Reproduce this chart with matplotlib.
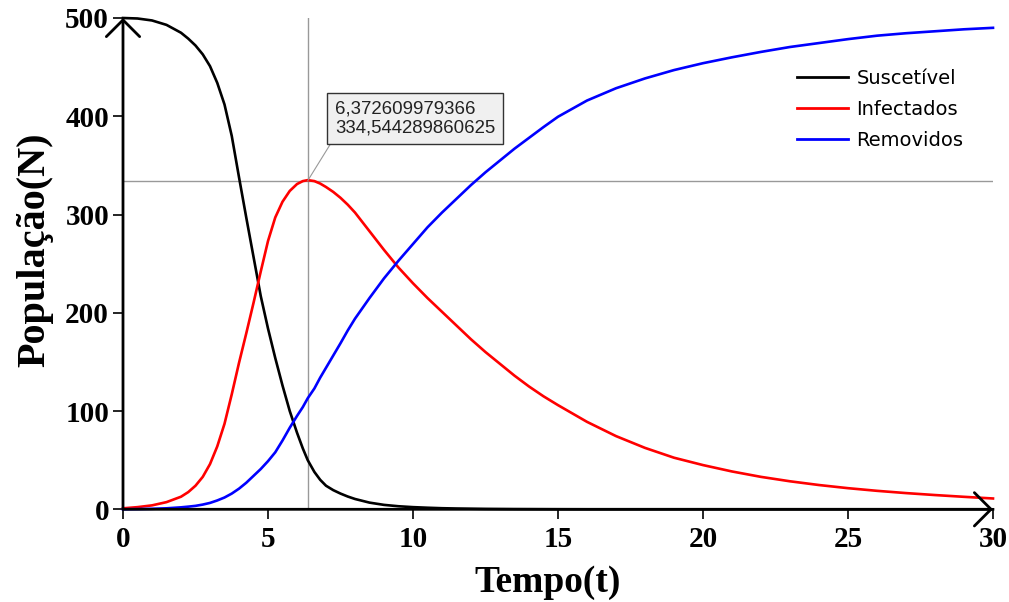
import matplotlib
matplotlib.use("Agg")
import matplotlib.pyplot as plt

# values
tempo = [0, 0.5, 1, 1.5, 2, 2.25, 2.5, 2.75, 3, 3.25, 3.5, 3.75, 4, 4.25, 4.5,
         4.75, 5, 5.25, 5.5, 5.75, 6, 6.2, 6.37, 6.6, 6.8, 7, 7.25, 7.5, 7.75,
         8, 8.5, 9, 9.5, 10, 10.5, 11, 11.5, 12, 12.5, 13, 13.5, 14, 14.5, 15,
         16, 17, 18, 19, 20, 21, 22, 23, 24, 25, 26, 27, 28, 29, 30]
suscetivel = [500, 499.5, 497.5, 493, 485, 479, 472, 463, 451, 434, 412, 380,
              338, 297, 257, 217, 184, 154, 126, 100, 78, 62, 50, 38, 30, 24,
              19.5, 16, 13, 10.5, 6.8, 4.5, 3.1, 2.2, 1.6, 1.1, 0.8, 0.6, 0.4,
              0.3, 0.2, 0.15, 0.1, 0.05, 0, 0, 0, 0, 0, 0, 0, 0, 0, 0, 0, 0, 0,
              0, 0]
infectados = [1, 2.2, 4, 7.3, 12.8, 17.5, 24, 33, 46, 64, 87, 117, 149, 179,
              210, 242, 273, 297, 313, 324, 331, 334, 335, 334, 331.5, 328, 323,
              317, 310, 302, 283, 264, 246, 230, 215, 201, 187, 173, 160, 148,
              136, 125, 115, 106, 89, 74.5, 62.5, 52.5, 45, 38.5, 33, 28.5,
              24.7, 21.5, 18.8, 16.5, 14.5, 12.7, 11]
removidos = [0, 0.2, 0.5, 1, 2, 2.7, 3.5, 4.8, 6.5, 9, 12, 16, 21, 27, 34, 41,
             49, 58, 70, 83, 95, 104, 113, 123, 134, 144, 156.5, 169, 182, 194,
             215, 235, 253, 270, 287, 302, 316, 330, 343, 355, 367, 378, 389,
             399.5, 416, 428.5, 438.5, 447, 454, 460, 465.5, 470.5, 474.5,
             478.5, 482, 484.5, 486.5, 488.5, 490]
pico_t = 6.372609979366
pico_i = 334.544289860625
x_ticks = [0, 5, 10, 15, 20, 25, 30]
y_ticks = [0, 100, 200, 300, 400, 500]

serif = "Liberation Serif"

fig = plt.figure(figsize=(10.09, 6.02), dpi=100)
ax = fig.add_axes([123 / 1009, 1 - 509.3 / 602, 870 / 1009, 491.3 / 602])

ax.axvline(pico_t, color="#999999", lw=1, zorder=1)
ax.axhline(pico_i, color="#999999", lw=1, zorder=1)

ax.plot(tempo, suscetivel, color="black", lw=1.9, label="Suscetível", clip_on=False, zorder=3)
ax.plot(tempo, infectados, color="#ff0000", lw=1.9, label="Infectados", clip_on=False, zorder=3)
ax.plot(tempo, removidos, color="#0000ff", lw=1.9, label="Removidos", clip_on=False, zorder=3)

ax.set_xlim(0, 30)
ax.set_ylim(0, 500)
for side in ["top", "right", "left", "bottom"]:
    ax.spines[side].set_visible(False)

# axis lines with open arrow heads
arrow = dict(arrowstyle="->, head_length=0.6, head_width=0.6", lw=2.0,
             color="black", shrinkA=0, shrinkB=0, mutation_scale=20)
ax.annotate("", xy=(0, 500), xytext=(0, 0), arrowprops=arrow, annotation_clip=False, zorder=4)
ax.annotate("", xy=(30, 0), xytext=(0, 0), arrowprops=arrow, annotation_clip=False, zorder=4)

ax.set_xticks(x_ticks)
ax.set_yticks(y_ticks)
ax.tick_params(direction="out", length=7, width=1.2, color="black")
ax.tick_params(axis="x", pad=5)
ax.tick_params(axis="y", pad=3)
for lab in ax.get_xticklabels() + ax.get_yticklabels():
    lab.set_fontfamily(serif)
    lab.set_fontweight("bold")
    lab.set_fontsize(21)

fig.text(35 / 1009, 1 - 250 / 602, "População(N)", rotation=90, ha="center", va="center",
         fontfamily=serif, fontweight="bold", fontsize=29)
fig.text(548 / 1009, 1 - 583 / 602, "Tempo(t)", ha="center", va="center",
         fontfamily=serif, fontweight="bold", fontsize=27)

ax.annotate(f"{pico_t:.12f}".replace(".", ",") + "\n" + f"{pico_i:.12f}".replace(".", ","),
            xy=(pico_t, pico_i), xytext=(19.5, 31.5), textcoords="offset points",
            ha="left", va="bottom", fontfamily="Liberation Sans", fontsize=13.4,
            color="#222222", linespacing=1.2,
            bbox=dict(boxstyle="square,pad=0.4", fc="#f0f0f0", ec="#333333", lw=1),
            arrowprops=dict(arrowstyle="-", color="#999999", lw=0.8,
                            shrinkA=0, shrinkB=0, relpos=(0, 0)),
            zorder=5)

leg = ax.legend(loc="upper left", bbox_to_anchor=(797 / 1009, 1 - 69 / 602),
                bbox_transform=fig.transFigure, frameon=False,
                prop={"family": "DejaVu Sans", "size": 14},
                handlelength=2.6, handletextpad=0.45, labelspacing=0.62,
                borderpad=0, borderaxespad=0)
for line in leg.get_lines():
    line.set_linewidth(2)

fig.savefig("out.png", dpi=100)
